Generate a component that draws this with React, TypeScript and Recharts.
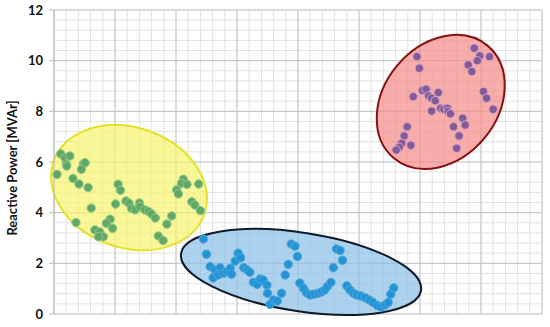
import { ScatterChart, Scatter, XAxis, YAxis, CartesianGrid, ReferenceArea } from 'recharts'

const Y_TICKS = [0, 2, 4, 6, 8, 10, 12]
const X_TICKS = [0, 1, 2, 3, 4, 5, 6, 7, 8]
// minor grid: 5 steps between majors
const Y_MINOR = Array.from({ length: 31 }, (_, i) => +(i * 0.4).toFixed(2))
const X_MINOR = Array.from({ length: 41 }, (_, i) => +(i * 0.2).toFixed(2))

// [x, y] pairs, y in MVAr
const GROUP_GREEN: [number, number][] = [
  [0.11, 6.32], [0.18, 6.16], [0.26, 6.24], [0.2, 5.92], [0.21, 5.84], [0.05, 5.51],
  [0.48, 5.92], [0.51, 5.97], [0.45, 5.71], [0.31, 5.35], [0.41, 5.13], [0.56, 4.99],
  [1.05, 5.12], [1.09, 4.88], [0.61, 4.18], [1.01, 4.34], [1.18, 4.46], [1.23, 4.37],
  [1.27, 4.17], [1.33, 4.11], [1.4, 4.38], [1.41, 4.24], [1.49, 4.11], [1.55, 4.05],
  [1.6, 3.95], [1.66, 3.79], [1.71, 3.08], [1.79, 2.9], [1.85, 3.55], [1.93, 3.87],
  [0.36, 3.61], [0.92, 3.74], [0.86, 3.58], [0.96, 3.38], [0.67, 3.32], [0.75, 3.24],
  [0.81, 3.05], [0.73, 3.05], [2.01, 4.9], [2.04, 4.74], [2.12, 5.32], [2.09, 5.16],
  [2.18, 5.12], [2.37, 5.13], [2.26, 4.43], [2.31, 4.3], [2.4, 4.08],
]

const GROUP_BLUE: [number, number][] = [
  [2.45, 2.96], [2.5, 2.36], [2.56, 1.87], [2.64, 1.74], [2.72, 1.83], [2.61, 1.43],
  [2.69, 1.54], [2.78, 1.61], [2.83, 1.67], [2.89, 1.8], [2.91, 1.57], [2.97, 2.09],
  [3.02, 2.4], [3.06, 2.22], [3.11, 1.83], [3.17, 1.74], [3.21, 1.65], [3.27, 1.25],
  [3.33, 1.17], [3.38, 1.38], [3.43, 1.34], [3.49, 1.14], [3.5, 0.82], [3.54, 0.38],
  [3.6, 0.55], [3.66, 0.51], [3.73, 0.82], [3.79, 1.54], [3.84, 1.96], [3.89, 2.76],
  [3.95, 2.68], [3.99, 2.27], [4.03, 1.22], [4.09, 1.01], [4.14, 0.83], [4.2, 0.75],
  [4.26, 0.78], [4.33, 0.82], [4.39, 0.88], [4.44, 0.95], [4.48, 1.08], [4.54, 1.25],
  [4.58, 1.83], [4.63, 2.57], [4.69, 2.51], [4.73, 2.12], [4.8, 1.11], [4.85, 0.95],
  [4.91, 0.82], [4.96, 0.75], [5.03, 0.71], [5.1, 0.64], [5.17, 0.55], [5.23, 0.46],
  [5.3, 0.33], [5.36, 0.28], [5.43, 0.36], [5.48, 0.46], [5.52, 0.78], [5.57, 1.03],
]

const GROUP_PURPLE: [number, number][] = [
  [5.95, 10.16], [5.99, 9.7], [5.89, 8.58], [6.04, 8.82], [6.1, 8.87], [6.14, 8.61],
  [6.19, 8.52], [6.25, 8.42], [6.3, 8.74], [6.19, 8.01], [6.34, 8.12], [6.39, 8.08],
  [6.45, 8.12], [6.46, 7.99], [6.5, 7.9], [6.7, 7.73], [6.74, 7.46], [6.55, 7.39],
  [6.64, 7.03], [6.6, 6.54], [5.79, 7.39], [5.74, 7.03], [5.7, 6.74], [5.66, 6.58],
  [5.85, 6.66], [6.89, 10.49], [6.98, 10.19], [6.94, 10.0], [7.14, 10.16], [6.79, 9.83],
  [6.85, 9.57], [7.04, 8.78], [7.09, 8.52], [7.2, 8.08], [5.61, 6.47],
]

// cluster outlines: centre, half-extents (data units), tilt in degrees
const CLUSTERS = [
  { cx: 1.23, cy: 4.99, rx: 1.31, ry: 2.37, angle: 19.4, fill: '#f6f470', stroke: '#e2e22a' },
  { cx: 4.05, cy: 1.66, rx: 1.99, ry: 1.55, angle: 8.75, fill: '#8cc0e8', stroke: '#0c1a2c' },
  { cx: 6.34, cy: 8.37, rx: 1.2, ry: 2.24, angle: -50.3, fill: '#f58d8a', stroke: '#861010' },
]

const toPoints = (rows: [number, number][]) => rows.map(([x, y]) => ({ x, y }))

function makeDot(fill: string, stroke: string) {
  return (props: any) => (
    <circle cx={props.cx} cy={props.cy} r={4.2} fill={fill} stroke={stroke} strokeWidth={1} />
  )
}

function makeEllipse(angle: number, fill: string, stroke: string) {
  return (props: any) => {
    const { x, y, width, height } = props
    const cx = x + width / 2
    const cy = y + height / 2
    return (
      <ellipse
        cx={cx}
        cy={cy}
        rx={Math.abs(width) / 2}
        ry={Math.abs(height) / 2}
        transform={`rotate(${angle} ${cx} ${cy})`}
        fill={fill}
        fillOpacity={0.72}
        stroke={stroke}
        strokeWidth={2}
      />
    )
  }
}

function YLabel(props: any) {
  const { viewBox } = props
  const x = 12
  const y = viewBox.y + viewBox.height / 2 + 6
  return (
    <text
      x={x}
      y={y}
      transform={`rotate(-90 ${x} ${y})`}
      textAnchor="middle"
      dominantBaseline="central"
      fontFamily="Lato, sans-serif"
      fontWeight={700}
      fontSize={13}
      fill="#111"
    >
      Reactive Power [MVAr]
    </text>
  )
}

// minor grid positions via the axis scales (fallback: plot offset)
const minorVertical = (p: any) =>
  X_MINOR.map((v) =>
    p.xAxis && typeof p.xAxis.scale === 'function'
      ? p.xAxis.scale(v)
      : p.offset.left + (v / 8) * p.offset.width,
  )
const minorHorizontal = (p: any) =>
  Y_MINOR.map((v) =>
    p.yAxis && typeof p.yAxis.scale === 'function'
      ? p.yAxis.scale(v)
      : p.offset.top + p.offset.height - (v / 12) * p.offset.height,
  )

export default function App() {
  return (
    <div style={{ position: 'absolute', left: 0, top: 0, width: 550, height: 327, background: '#fff' }}>
      <ScatterChart width={550} height={327} margin={{ top: 10, right: 8, bottom: 13, left: 0 }}>
        <CartesianGrid
          stroke="#e2e2e2"
          verticalCoordinatesGenerator={minorVertical}
          horizontalCoordinatesGenerator={minorHorizontal}
        />
        <CartesianGrid stroke="#c4c4c4" />
        <XAxis type="number" dataKey="x" domain={[0, 8]} ticks={X_TICKS} hide height={0} />
        <YAxis
          type="number"
          dataKey="y"
          domain={[0, 12]}
          ticks={Y_TICKS}
          width={54}
          axisLine={{ stroke: '#bdbdbd' }}
          tickLine={{ stroke: '#bdbdbd' }}
          tickSize={5}
          tickMargin={6}
          tick={{ fontSize: 13, fontWeight: 700, fill: '#111', fontFamily: 'Lato, sans-serif' }}
          label={<YLabel />}
        />
        {CLUSTERS.map((c, i) => (
          <ReferenceArea
            key={i}
            x1={c.cx - c.rx}
            x2={c.cx + c.rx}
            y1={c.cy - c.ry}
            y2={c.cy + c.ry}
            ifOverflow="visible"
            shape={makeEllipse(c.angle, c.fill, c.stroke)}
          />
        ))}
        <Scatter data={toPoints(GROUP_GREEN)} shape={makeDot('#62a865', '#8fc88f')} isAnimationActive={false} />
        <Scatter data={toPoints(GROUP_BLUE)} shape={makeDot('#2594d4', '#4aa6dc')} isAnimationActive={false} />
        <Scatter data={toPoints(GROUP_PURPLE)} shape={makeDot('#855a98', '#d4a6c8')} isAnimationActive={false} />
      </ScatterChart>
    </div>
  )
}
